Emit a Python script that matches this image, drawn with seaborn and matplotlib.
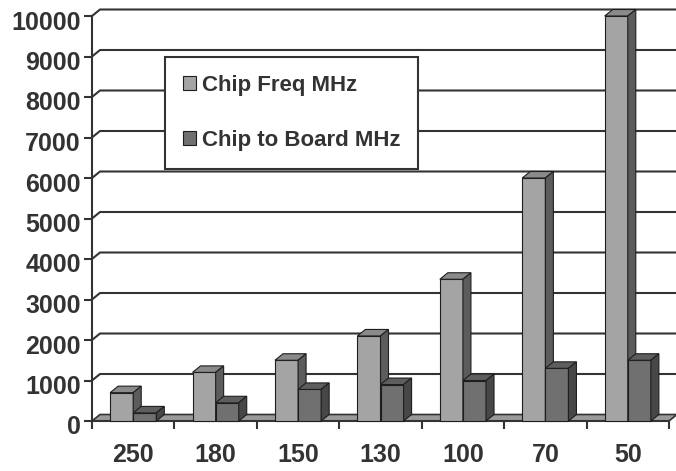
import numpy as np
import pandas as pd
import seaborn as sns
import matplotlib
matplotlib.use("Agg")
import matplotlib.pyplot as plt
from matplotlib.patches import Polygon, Patch
from matplotlib.lines import Line2D
from matplotlib.transforms import ScaledTranslation

# Process node (nm) and the two frequency series (MHz)
nodes = ["250", "180", "150", "130", "100", "70", "50"]
chip_freq = [700, 1200, 1500, 2100, 3500, 6000, 10000]
chip_to_board = [200, 450, 780, 900, 1000, 1300, 1500]
series_names = ["Chip Freq MHz", "Chip to Board MHz"]
y_ticks = list(range(0, 10001, 1000))

df = pd.DataFrame({
    "node": nodes * 2,
    "mhz": chip_freq + chip_to_board,
    "series": [series_names[0]] * len(nodes) + [series_names[1]] * len(nodes),
})

sns.set_theme(style="white")
plt.rcParams["font.family"] = ["Liberation Sans", "DejaVu Sans"]
plt.rcParams["font.weight"] = "bold"

ink = "#333333"
edge = "#1e1e1e"
# front / top / side shades for each series
shades = {
    series_names[0]: ("#a4a4a4", "#8a8a8a", "#5c5c5c"),
    series_names[1]: ("#707070", "#5e5e5e", "#474747"),
}

fig = plt.figure(figsize=(6.76, 4.71), dpi=100)
W, H = 676, 471
ax_left, ax_right, ax_bottom, ax_top = 92, 669, 421, 16
ax = fig.add_axes([ax_left / W, 1 - ax_bottom / H,
                   (ax_right - ax_left) / W, (ax_bottom - ax_top) / H])

sns.barplot(data=df, x="node", y="mhz", hue="series", order=nodes,
            hue_order=series_names,
            palette=[shades[s][0] for s in series_names],
            width=0.56, saturation=1, edgecolor=edge, linewidth=0.8,
            errorbar=None, legend=False, ax=ax)

ax.set_xlim(-0.5, len(nodes) - 0.5)
ax.set_ylim(0, 10000)

# depth of the pseudo-3D extrusion, converted from pixels to data units
px_per_x = (ax_right - ax_left) / len(nodes)
px_per_y = (ax_bottom - ax_top) / 10000
dx = 8 / px_per_x
dy = 6.5 / px_per_y

x0, x1 = ax.get_xlim()

# back wall gridlines, each with a short slanted link to the axis
for v in y_ticks[1:]:
    ax.add_line(Line2D([x0, x0 + dx, x1 + dx], [v, v + dy, v + dy],
                       color=ink, lw=1.5, zorder=1, clip_on=False))

# floor
ax.add_patch(Polygon([(x0, 0), (x1, 0), (x1 + dx, dy), (x0 + dx, dy)],
                     closed=True, facecolor="#9a9a9a", edgecolor=ink,
                     lw=1.2, zorder=2, clip_on=False))

# extrude each bar with a top and a right-hand side face
for k, (cont, name) in enumerate(zip(ax.containers, series_names)):
    front, top, side = shades[name]
    for i, bar in enumerate(cont):
        bx0 = bar.get_x()
        bx1 = bx0 + bar.get_width()
        h = bar.get_height()
        z = 3 + i * 0.1 + k * 0.05
        bar.set_zorder(z)
        bar.set_clip_on(False)
        ax.add_patch(Polygon([(bx0, h), (bx1, h), (bx1 + dx, h + dy), (bx0 + dx, h + dy)],
                             closed=True, facecolor=top, edgecolor=edge, lw=0.8,
                             zorder=z, clip_on=False))
        ax.add_patch(Polygon([(bx1, 0), (bx1 + dx, dy), (bx1 + dx, h + dy), (bx1, h)],
                             closed=True, facecolor=side, edgecolor=edge, lw=0.8,
                             zorder=z, clip_on=False))

# axes styling
for s in ("top", "right"):
    ax.spines[s].set_visible(False)
for s in ("left", "bottom"):
    ax.spines[s].set_color(ink)
    ax.spines[s].set_linewidth(1.5)
    ax.spines[s].set_zorder(2.5)

ax.set_yticks(y_ticks)
ax.set_yticklabels([str(v) for v in y_ticks])
ax.set_xticks(range(len(nodes)))
ax.set_xticklabels(nodes)
ax.set_xticks(np.arange(-0.5, len(nodes), 1.0), minor=True)
ax.tick_params(axis="y", which="major", direction="out", length=6, width=1.5,
               color=ink, pad=2, labelsize=18, labelcolor=ink, left=True)
ax.tick_params(axis="x", which="major", length=0, pad=16, labelsize=18, labelcolor=ink)
ax.tick_params(axis="x", which="minor", direction="out", length=5.5, width=1.5,
               color=ink, bottom=True)
ax.set_xlabel("")
ax.set_ylabel("")

# value labels sit a touch below their tick marks
shift = ScaledTranslation(0, -4 / 100, fig.dpi_scale_trans)
for lab in ax.get_yticklabels():
    lab.set_transform(lab.get_transform() + shift)

handles = [Patch(facecolor=shades[s][0], edgecolor=edge, linewidth=0.8) for s in series_names]
leg = fig.legend(handles, series_names, loc="upper left",
                 bbox_to_anchor=(165 / W, 1 - 57 / H), bbox_transform=fig.transFigure,
                 borderaxespad=0, fontsize=16, frameon=True, fancybox=False,
                 framealpha=1, edgecolor=ink, handlelength=0.6, handleheight=0.6,
                 handletextpad=0.25, labelspacing=1.55, borderpad=0.8)
leg.get_frame().set_linewidth(1.5)
for t in leg.get_texts():
    t.set_color(ink)
leg.set_zorder(10)

fig.savefig("out.png", dpi=100, facecolor="white")
